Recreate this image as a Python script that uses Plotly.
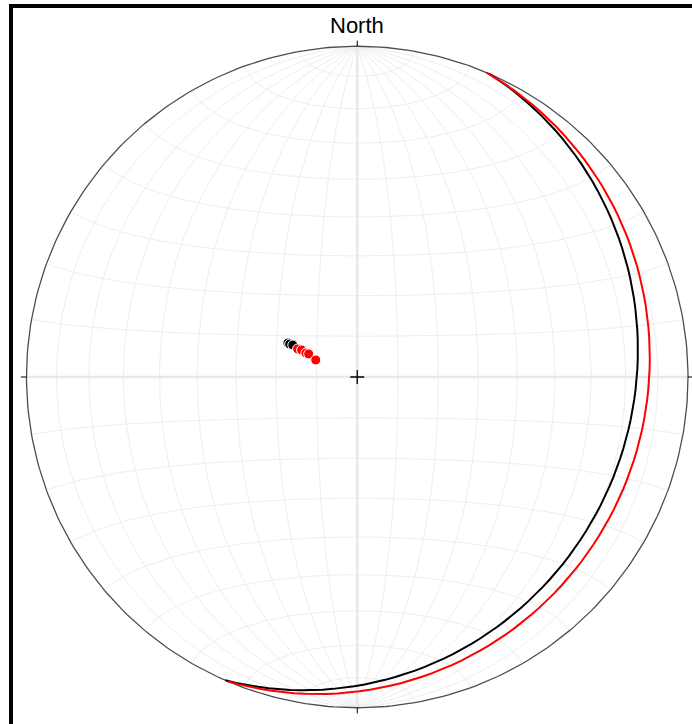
import numpy as np
import plotly.graph_objects as go

# ---- data -----------------------------------------------------------------
# Planes as right-hand-rule strike / dip (degrees)
plane_strike = [23.5, 23.0]
plane_dip = [18.0, 13.8]

# Poles as trend / plunge (degrees)
black_trend = [296.1, 296.0, 296.4]
black_plunge = [71.0, 71.5, 72.3]
red_trend = [295.2, 295.9, 295.0, 295.4, 292.3]
red_plunge = [73.8, 74.8, 76.1, 76.8, 79.0]

title_text = "North"

# ---- equal-area (Schmidt) lower-hemisphere projection ---------------------
def project(n, e, d):
    """Project direction cosines (north, east, down) with down >= 0."""
    n, e, d = np.asarray(n, float), np.asarray(e, float), np.asarray(d, float)
    k = 1.0 / np.sqrt(1.0 + d)
    return e * k, n * k


def line_xy(trend, plunge):
    t, p = np.radians(trend), np.radians(plunge)
    return project(np.cos(p) * np.cos(t), np.cos(p) * np.sin(t), np.sin(p))


def great_circle(strike, dip, step=2.0):
    s, dp = np.radians(strike), np.radians(dip)
    rake = np.radians(np.arange(0, 180 + step, step))
    sv = np.array([np.cos(s), np.sin(s), 0.0])
    dv = np.array([np.cos(dp) * np.cos(s + np.pi / 2),
                   np.cos(dp) * np.sin(s + np.pi / 2),
                   np.sin(dp)])
    v = np.outer(np.cos(rake), sv) + np.outer(np.sin(rake), dv)
    v[:, 2] = np.clip(v[:, 2], 0, None)
    return project(v[:, 0], v[:, 1], v[:, 2])


def small_circle_ns(alpha, step=2.0):
    """Cone of half-angle alpha about the horizontal north axis."""
    a = np.radians(alpha)
    phi = np.radians(np.arange(0, 180 + step, step))
    return project(np.full_like(phi, np.cos(a)),
                   np.sin(a) * np.cos(phi),
                   np.sin(a) * np.sin(phi))


fig = go.Figure()

# ---- net grid ---------------------------------------------------------------
grid_color = "#eeeeee"
gx, gy = [], []
for dip in range(10, 90, 10):
    for strike in (0, 180):
        x, y = great_circle(strike, dip)
        gx += list(x) + [None]
        gy += list(y) + [None]
for alpha in range(10, 180, 10):
    if alpha == 90:
        continue
    x, y = small_circle_ns(alpha)
    gx += list(x) + [None]
    gy += list(y) + [None]
fig.add_trace(go.Scatter(x=gx, y=gy, mode="lines",
                         line=dict(color=grid_color, width=1), hoverinfo="skip"))

# main N-S and E-W diameters
fig.add_trace(go.Scatter(x=[0, 0, None, -1, 1], y=[-1, 1, None, 0, 0], mode="lines",
                         line=dict(color="#e8e8e8", width=2.5), hoverinfo="skip"))

# primitive circle
th = np.radians(np.arange(0, 361, 1))
fig.add_trace(go.Scatter(x=np.sin(th), y=np.cos(th), mode="lines",
                         line=dict(color="#4d4d4d", width=1.3), hoverinfo="skip"))

# cardinal tick marks
tx, ty = [], []
for az in (0, 90, 180, 270):
    a = np.radians(az)
    tx += [np.sin(a), 1.017 * np.sin(a), None]
    ty += [np.cos(a), 1.017 * np.cos(a), None]
fig.add_trace(go.Scatter(x=tx, y=ty, mode="lines",
                         line=dict(color="black", width=1), hoverinfo="skip"))

# centre cross
fig.add_trace(go.Scatter(x=[0], y=[0], mode="markers",
                         marker=dict(symbol="cross-thin", size=10,
                                     line=dict(color="black", width=1.3)),
                         hoverinfo="skip"))

# ---- great circles ----------------------------------------------------------
circle_colors = ["black", "red"]
for strike, dip, col in zip(plane_strike, plane_dip, circle_colors):
    x, y = great_circle(strike, dip)
    fig.add_trace(go.Scatter(x=x, y=y, mode="lines",
                             line=dict(color=col, width=2)))

# ---- poles ------------------------------------------------------------------
bx, by = line_xy(black_trend, black_plunge)
fig.add_trace(go.Scatter(x=bx, y=by, mode="markers",
                         marker=dict(color="black", size=10,
                                     line=dict(color="white", width=1))))
rx, ry = line_xy(red_trend, red_plunge)
fig.add_trace(go.Scatter(x=rx, y=ry, mode="markers",
                         marker=dict(color="red", size=10,
                                     line=dict(color="white", width=1))))

# ---- layout -----------------------------------------------------------------
W, H = 692, 724
fig.add_annotation(x=0, y=1.064, text=title_text, showarrow=False,
                   font=dict(family="Liberation Sans, Arial", size=22, color="black"),
                   xanchor="center", yanchor="middle")

fig.update_layout(
    width=W, height=H,
    margin=dict(l=0, r=0, t=0, b=0),
    paper_bgcolor="white", plot_bgcolor="white",
    showlegend=False,
    xaxis=dict(visible=False, range=[-1.0801, 1.0121], fixedrange=True),
    yaxis=dict(visible=False, range=[-1.0491, 1.1398], fixedrange=True),
    shapes=[
        dict(type="line", xref="paper", yref="paper",
             x0=9 / W, x1=1, y0=1 - 6 / H, y1=1 - 6 / H,
             line=dict(color="black", width=4)),
        dict(type="line", xref="paper", yref="paper",
             x0=11 / W, x1=11 / W, y0=0, y1=1 - 4 / H,
             line=dict(color="black", width=4)),
    ],
)

fig.write_html("out.html")
